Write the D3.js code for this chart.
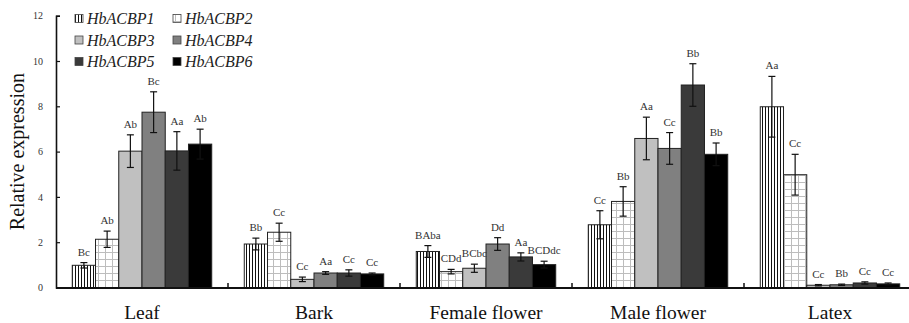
<!DOCTYPE html>
<html>
<head>
<meta charset="utf-8">
<script src="https://cdn.jsdelivr.net/npm/d3@7"></script>
<style>
  body { margin: 0; background: #fff; }
  svg { display: block; }
  svg text { font-family: "Liberation Serif", "Times New Roman", "DejaVu Serif", serif !important; }
</style>
</head>
<body>
<div id="chart"></div>
<script>
const categories = ["Leaf", "Bark", "Female flower", "Male flower", "Latex"];
const genes = ["HbACBP1", "HbACBP2", "HbACBP3", "HbACBP4", "HbACBP5", "HbACBP6"];

// mean relative expression, one array per tissue (genes in order)
const leafValues = [0.98, 2.13, 6.02, 7.74, 6.03, 6.33];
const barkValues = [1.92, 2.44, 0.36, 0.64, 0.64, 0.6];
const femaleValues = [1.59, 0.7, 0.85, 1.92, 1.35, 1.01];
const maleValues = [2.77, 3.8, 6.58, 6.14, 8.94, 5.88];
const latexValues = [7.98, 4.98, 0.1, 0.12, 0.2, 0.16];

// standard errors
const leafErrors = [0.12, 0.36, 0.72, 0.9, 0.85, 0.66];
const barkErrors = [0.26, 0.4, 0.1, 0.06, 0.14, 0.04];
const femaleErrors = [0.26, 0.1, 0.18, 0.28, 0.18, 0.15];
const maleErrors = [0.62, 0.65, 0.94, 0.7, 0.94, 0.5];
const latexErrors = [1.34, 0.9, 0.03, 0.03, 0.05, 0.04];

// significance letters
const leafLetters = ["Bc", "Ab", "Ab", "Bc", "Aa", "Ab"];
const barkLetters = ["Bb", "Cc", "Cc", "Aa", "Cc", "Cc"];
const femaleLetters = ["BAba", "CDd", "BCbc", "Dd", "Aa", "BCDdc"];
const maleLetters = ["Cc", "Bb", "Aa", "Cc", "Bb", "Bb"];
const latexLetters = ["Aa", "Cc", "Cc", "Bb", "Cc", "Cc"];

const yTicks = [0, 2, 4, 6, 8, 10, 12];

const allValues = [leafValues, barkValues, femaleValues, maleValues, latexValues];
const allErrors = [leafErrors, barkErrors, femaleErrors, maleErrors, latexErrors];
const allLetters = [leafLetters, barkLetters, femaleLetters, maleLetters, latexLetters];

const data = [];
categories.forEach((c, i) => {
  genes.forEach((g, j) => {
    data.push({ cat: c, gene: g, value: allValues[i][j], err: allErrors[i][j], label: allLetters[i][j] });
  });
});

const W = 909, H = 323;
const plotLeft = 56, plotRight = 916, plotTop = 15.7, plotBottom = 287.5;

const svg = d3.select("#chart").append("svg").attr("width", W).attr("height", H);

const defs = svg.append("defs");
// vertical stripes
const p1 = defs.append("pattern").attr("id", "stripes").attr("patternUnits", "userSpaceOnUse")
  .attr("width", 3).attr("height", 10);
p1.append("rect").attr("width", 3).attr("height", 10).attr("fill", "#fff");
p1.append("rect").attr("x", 0).attr("width", 1).attr("height", 10).attr("fill", "#111");
// light grid
const p2 = defs.append("pattern").attr("id", "grid").attr("patternUnits", "userSpaceOnUse")
  .attr("width", 7).attr("height", 7);
p2.append("rect").attr("width", 7).attr("height", 7).attr("fill", "#fff");
p2.append("path").attr("d", "M0,0.5H7M0.5,0V7").attr("stroke", "#bdbdbd").attr("stroke-width", 1);

const fills = {
  HbACBP1: "url(#stripes)",
  HbACBP2: "url(#grid)",
  HbACBP3: "#c0c0c0",
  HbACBP4: "#808080",
  HbACBP5: "#3a3a3a",
  HbACBP6: "#000000"
};

const x0 = d3.scaleBand().domain(categories).range([plotLeft, plotRight]).padding(0);
const x1 = d3.scaleBand().domain(genes).range([0, x0.bandwidth()]).paddingInner(0).paddingOuter(0.7);
const y = d3.scaleLinear().domain([0, 12]).range([plotBottom, plotTop]);

// bars
svg.append("g").selectAll("rect").data(data).join("rect")
  .attr("x", d => x0(d.cat) + x1(d.gene))
  .attr("y", d => y(d.value))
  .attr("width", x1.bandwidth())
  .attr("height", d => y(0) - y(d.value))
  .attr("fill", d => fills[d.gene])
  .attr("stroke", "#222")
  .attr("stroke-width", 1);

// error bars
const eb = svg.append("g").attr("stroke", "#111").attr("stroke-width", 1.2);
data.forEach(d => {
  const cx = x0(d.cat) + x1(d.gene) + x1.bandwidth() / 2;
  const y1 = y(d.value + d.err), y2 = y(Math.max(0, d.value - d.err));
  eb.append("line").attr("x1", cx).attr("x2", cx).attr("y1", y1).attr("y2", y2);
  eb.append("line").attr("x1", cx - 3.5).attr("x2", cx + 3.5).attr("y1", y1).attr("y2", y1);
  eb.append("line").attr("x1", cx - 3.5).attr("x2", cx + 3.5).attr("y1", y2).attr("y2", y2);
});

// letters
svg.append("g").selectAll("text").data(data).join("text")
  .attr("x", d => x0(d.cat) + x1(d.gene) + x1.bandwidth() / 2)
  .attr("y", d => y(d.value + d.err) - 7)
  .attr("text-anchor", "middle")
  .attr("font-size", 11)
  .attr("fill", "#333")
  .text(d => d.label);

// y axis
const yAxis = svg.append("g").attr("transform", `translate(${plotLeft},0)`)
  .call(d3.axisLeft(y).tickValues(yTicks).tickSize(-4).tickPadding(13));
yAxis.select(".domain").attr("stroke-width", 1.6).attr("stroke", "#111");
yAxis.selectAll(".tick line").attr("stroke", "#111").attr("stroke-width", 1.2);
yAxis.selectAll("text").attr("font-size", 10).attr("fill", "#333");

// x axis
const xAxis = svg.append("g").attr("transform", `translate(0,${y(0) + 0.5})`)
  .call(d3.axisBottom(x0).tickSize(0).tickPadding(17));
xAxis.select(".domain").remove();
xAxis.append("line").attr("x1", plotLeft).attr("x2", W).attr("stroke", "#111").attr("stroke-width", 2);
xAxis.selectAll("text").attr("font-size", 19.5).attr("fill", "#111");
// boundary ticks between tissues
xAxis.selectAll(".sep").data(categories.slice(1)).join("line")
  .attr("class", "sep")
  .attr("x1", d => x0(d)).attr("x2", d => x0(d))
  .attr("y1", 0).attr("y2", -5)
  .attr("stroke", "#111").attr("stroke-width", 1.5);

// y title
svg.append("text")
  .attr("transform", `translate(24,${(plotTop + plotBottom) / 2}) rotate(-90)`)
  .attr("text-anchor", "middle")
  .attr("font-size", 20)
  .attr("fill", "#111")
  .text("Relative expression");

// legend
const legend = svg.append("g");
genes.forEach((g, i) => {
  const col = i % 2, row = Math.floor(i / 2);
  const lx = 75 + col * 98, ly = 18.5 + row * 21.5;
  legend.append("rect").attr("x", lx).attr("y", ly - 4).attr("width", 8).attr("height", 8)
    .attr("fill", fills[g]).attr("stroke", "#444").attr("stroke-width", 0.8);
  legend.append("text").attr("x", lx + 12).attr("y", ly + 5.5)
    .attr("font-size", 16).attr("font-style", "italic").attr("fill", "#222")
    .text(g);
});
</script>
</body>
</html>
